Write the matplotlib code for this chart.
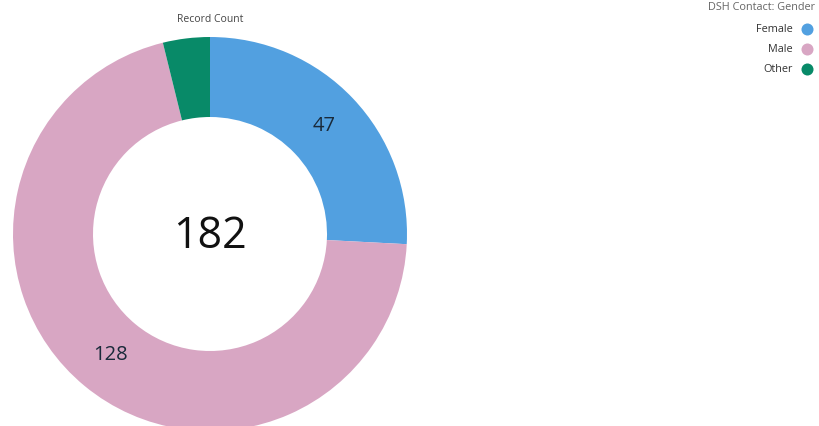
import numpy as np
import matplotlib.pyplot as plt

labels = ['Female', 'Male', 'Other']
counts = [47, 128, 7]
colors = ['#52a0e0', '#d8a6c3', '#088a68']

legend_title = 'DSH Contact: Gender'
measure_title = 'Record Count'

W, H = 819, 427
fig = plt.figure(figsize=(W / 100, H / 100), dpi=100)
ax = fig.add_axes([0, 0, 1, 1])

cx, cy = 210, H - 235
r_out, r_in = 197, 117
wedges, _ = ax.pie(counts, colors=colors, startangle=90, counterclock=False,
                   radius=r_out, center=(cx, cy), frame=True,
                   wedgeprops=dict(width=r_out - r_in, linewidth=0))
ax.set_xlim(0, W)
ax.set_ylim(0, H)
ax.set_aspect('equal')
ax.axis('off')

total = sum(counts)
r_mid = (r_out + r_in) / 2
start = 90.0
for c in counts:
    span = c / total * 360
    mid = np.deg2rad(start - span / 2)
    if c / total > 0.1:
        ax.text(cx + r_mid * np.cos(mid), cy + r_mid * np.sin(mid) + 1, str(c),
                ha='center', va='center', fontsize=14.5, color='#1a2a3a',
                family='Open Sans')
    start -= span

ax.text(cx, cy - 2, str(total), ha='center', va='center', fontsize=31,
        color='#111111', family='Open Sans')
ax.text(cx, H - 19, measure_title, ha='center', va='center', fontsize=7.5,
        color='#444444', family='Open Sans')

# legend
ax.text(815, H - 7, legend_title, ha='right', va='center', fontsize=7.8,
        color='#666666', family='Open Sans')
for i, (lab, col) in enumerate(zip(labels, colors)):
    y = H - 30 - 20 * i
    ax.text(793, y, lab, ha='right', va='center', fontsize=7.8,
            color='#333333', family='Open Sans')
    ax.scatter([807], [y], s=75, color=col, linewidths=0)

fig.savefig('out.png', dpi=100)
